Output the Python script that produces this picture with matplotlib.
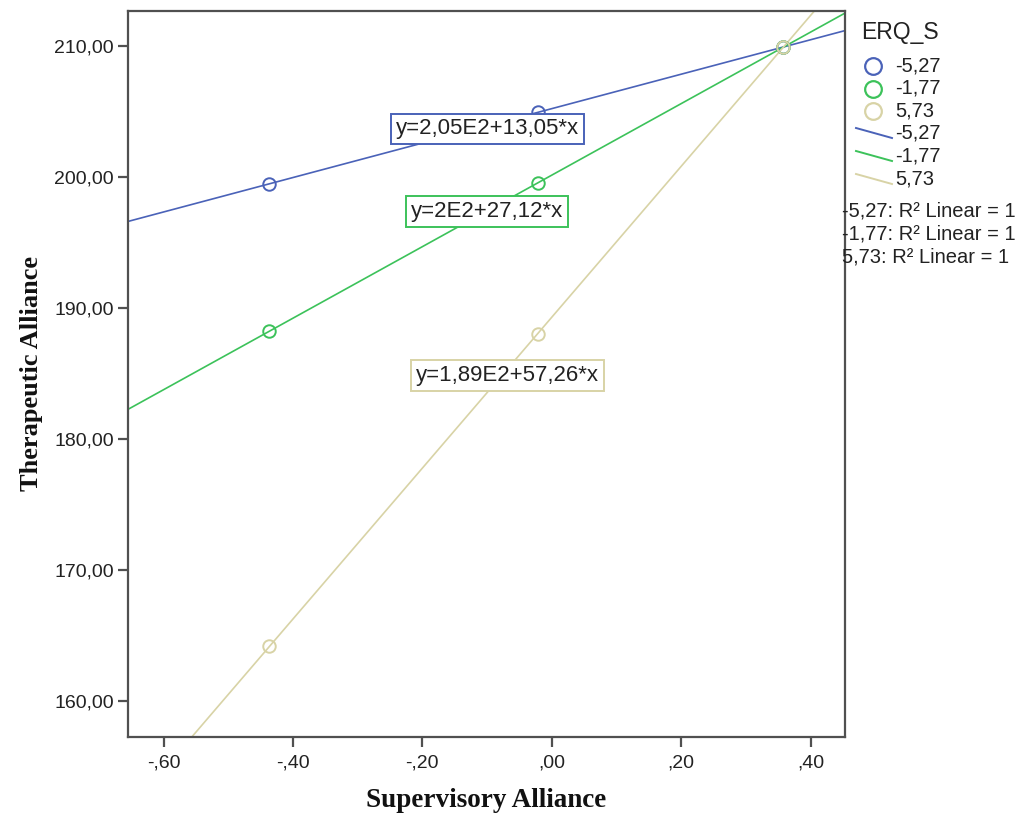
import matplotlib
matplotlib.use("Agg")
import matplotlib.pyplot as plt
import numpy as np
from matplotlib.lines import Line2D

# ---- data ----
groups = ["-5,27", "-1,77", "5,73"]
x_points = [-0.437, -0.021, 0.357]
y_blue = [199.47, 204.96, 209.90]
y_green = [188.24, 199.54, 209.90]
y_tan = [164.20, 188.00, 209.90]
equations = ["y=2,05E2+13,05*x", "y=2E2+27,12*x", "y=1,89E2+57,26*x"]
r2_labels = ["-5,27: R² Linear = 1", "-1,77: R² Linear = 1", "5,73: R² Linear = 1"]
legend_title = "ERQ_S"
xticks = [-0.60, -0.40, -0.20, 0.00, 0.20, 0.40]
xtick_labels = ["-,60", "-,40", "-,20", ",00", ",20", ",40"]
yticks = [160, 170, 180, 190, 200, 210]
ytick_labels = ["160,00", "170,00", "180,00", "190,00", "200,00", "210,00"]

colors = ["#4A62B8", "#3CC25A", "#D8D3A6"]
series = [y_blue, y_green, y_tan]

W, H = 1024, 815
fig = plt.figure(figsize=(W / 100, H / 100), dpi=100)
ax = fig.add_axes([0.125, 0.096, 0.700, 0.891])
xlim = (-0.655, 0.453)
ylim = (157.3, 212.7)


def fx(px):
    return px / W


def fy(py):
    return 1 - py / H


xx = np.linspace(-1.0, 1.0, 50)
for ys, c in zip(series, colors):
    slope, icpt = np.polyfit(x_points, ys, 1)
    ax.plot(xx, icpt + slope * xx, color=c, lw=1.2, zorder=2)
for ys, c in zip(series, colors):
    ax.plot(x_points, ys, linestyle="none", marker="o", markersize=9,
            markerfacecolor="none", markeredgecolor=c, markeredgewidth=1.4, zorder=3)

ax.set_xlim(*xlim)
ax.set_ylim(*ylim)
ax.set_xticks(xticks)
ax.set_xticklabels(xtick_labels)
ax.set_yticks(yticks)
ax.set_yticklabels(ytick_labels)

for sp in ax.spines.values():
    sp.set_color("#505050")
    sp.set_linewidth(1.6)
ax.tick_params(direction="out", length=7, width=1.6, color="#505050",
               labelsize=14, labelcolor="#222222", pad=3)
ax.tick_params(axis="x", pad=6)
for lab in ax.get_xticklabels() + ax.get_yticklabels():
    lab.set_family("Liberation Sans")

ax.set_xlabel("Supervisory Alliance", family="Liberation Serif", fontweight="bold",
              fontsize=19.5, labelpad=12, color="#111111")
ax.set_ylabel("Therapeutic Alliance", family="Liberation Serif", fontweight="bold",
              fontsize=19, labelpad=8, color="#111111")

# equation boxes
eq_pos = [(0.501, 0.837), (0.501, 0.723), (0.529, 0.497)]
for (px, py), eq, c in zip(eq_pos, equations, colors):
    ax.text(px, py, eq, transform=ax.transAxes, ha="center", va="center",
            fontsize=16, family="Liberation Sans", color="#222222", zorder=5,
            bbox=dict(boxstyle="square,pad=0.22", facecolor="white", edgecolor=c, lw=1.4))

# legend (drawn at fixed positions to the right of the plot)
fig.text(fx(861), fy(33), legend_title, family="Liberation Sans", fontsize=16.5,
         color="#222222", ha="left", va="center")
circle_rows = [66, 88.5, 111]
line_rows = [133, 156, 179]
for g, c, ry in zip(groups, colors, circle_rows):
    fig.add_artist(Line2D([fx(873)], [fy(ry)], linestyle="none", marker="o", markersize=12,
                          markerfacecolor="none", markeredgecolor=c, markeredgewidth=1.6))
    fig.text(fx(895), fy(ry), g, family="Liberation Sans", fontsize=14.5,
             color="#222222", ha="left", va="center")
for g, c, ry in zip(groups, colors, line_rows):
    fig.add_artist(Line2D([fx(856), fx(892)], [fy(ry - 5), fy(ry + 5)], color=c, lw=1.4))
    fig.text(fx(895), fy(ry), g, family="Liberation Sans", fontsize=14.5,
             color="#222222", ha="left", va="center")

r2_rows = [211, 234, 257]
for t, ry in zip(r2_labels, r2_rows):
    fig.text(fx(842), fy(ry), t, family="Liberation Sans", fontsize=14.5,
             color="#222222", ha="left", va="center")

fig.savefig("out.png", dpi=100)
